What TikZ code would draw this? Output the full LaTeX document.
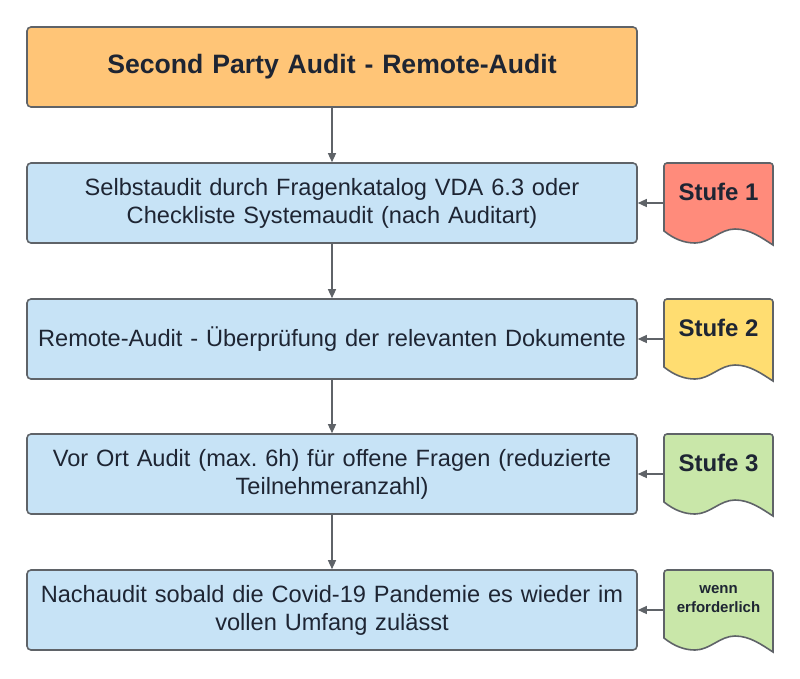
\documentclass[tikz,border=0pt]{standalone}
\usepackage{fontspec}
\setmainfont{Liberation Sans}
\usetikzlibrary{arrows.meta}
\frenchspacing
\definecolor{txt}{HTML}{1E2533}
\definecolor{edge}{HTML}{5F6368}
\definecolor{boxblue}{HTML}{C7E3F6}
\definecolor{boxorange}{HTML}{FFC577}
\definecolor{docred}{HTML}{FF8B7B}
\definecolor{docyellow}{HTML}{FFDD71}
\definecolor{docgreen}{HTML}{C9E7A9}
\tikzset{
  stepbox/.style={draw=edge, line width=1.6pt, rounded corners=4pt, minimum width=610pt, minimum height=80pt, text width=606pt, align=center, inner sep=0pt, text=txt, font=\fontsize{23.6}{28}\selectfont},
  doctext/.style={minimum width=109pt, minimum height=58pt, inner sep=0pt, align=center, text=txt},
  arr/.style={draw=edge, line width=1.3pt, -{Triangle[length=9pt,width=8pt]}},
  docline/.style={draw=edge, line width=1.6pt}
}
\newcommand{\docshape}[3]{% x0 y0 fill
  \path[docline, fill=#3] (#1,#2+68) -- (#1,#2+3) [rounded corners=3pt] -- (#1,#2) -- (#1+109,#2) [sharp corners] -- (#1+109,#2+82)
   .. controls (#1+98,#2+75) and (#1+86,#2+66) .. (#1+71,#2+66)
   .. controls (#1+56,#2+66) and (#1+46,#2+80) .. (#1+31,#2+80)
   .. controls (#1+20,#2+80) and (#1+10,#2+76) .. (#1,#2+68) -- cycle;
}
\begin{document}
\begin{tikzpicture}[x=1pt,y=-1pt]
\useasboundingbox (0,0) rectangle (800,678);
\node[stepbox, fill=boxorange, font=\bfseries\fontsize{26.6}{30}\selectfont] (t) at (332,67) {Second Party Audit - Remote-Audit};
\node[stepbox, fill=boxblue] (b1) at (332,203) {Selbstaudit durch Fragenkatalog VDA 6.3 oder\\Checkliste Systemaudit (nach Auditart)};
\node[stepbox, fill=boxblue] (b2) at (332,339) {Remote-Audit - Überprüfung der relevanten Dokumente};
\node[stepbox, fill=boxblue] (b3) at (332,474) {Vor Ort Audit (max. 6h) für offene Fragen (reduzierte\\Teilnehmeranzahl)};
\node[stepbox, fill=boxblue] (b4) at (332,610) {Nachaudit sobald die Covid-19 Pandemie es wieder im\\vollen Umfang zulässt};
\draw[arr] (t) -- (b1);
\draw[arr] (b1) -- (b2);
\draw[arr] (b2) -- (b3);
\draw[arr] (b3) -- (b4);
\docshape{664}{163}{docred}
\docshape{664}{299}{docyellow}
\docshape{664}{434}{docgreen}
\docshape{664}{570}{docgreen}
\node[doctext, font=\bfseries\fontsize{24}{28}\selectfont] (s1) at (718.5,192) {Stufe 1};
\node[doctext, font=\bfseries\fontsize{24}{28}\selectfont] (s2) at (718.5,328) {Stufe 2};
\node[doctext, font=\bfseries\fontsize{24}{28}\selectfont] (s3) at (718.5,463) {Stufe 3};
\node[doctext, font=\bfseries\fontsize{15}{19}\selectfont] (s4) at (718.5,599) {wenn\\erforderlich};
\draw[arr] (s1.west |- b1.east) -- (b1.east);
\draw[arr] (s2.west |- b2.east) -- (b2.east);
\draw[arr] (s3.west |- b3.east) -- (b3.east);
\draw[arr] (s4.west |- b4.east) -- (b4.east);
\end{tikzpicture}
\end{document}
